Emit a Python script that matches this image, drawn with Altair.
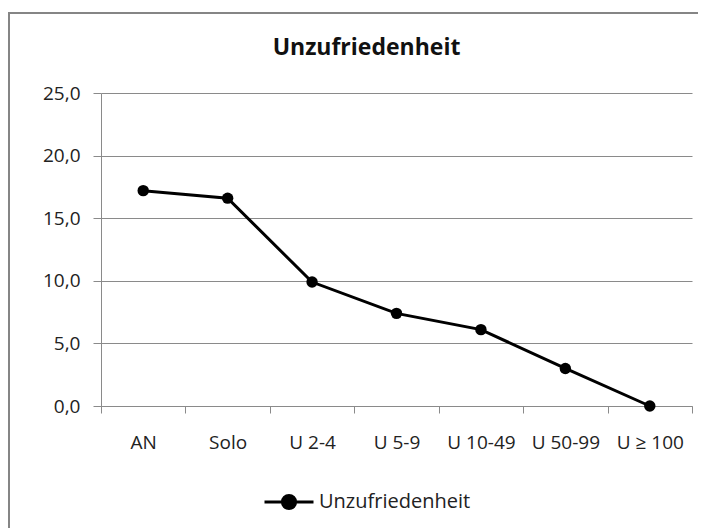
import altair as alt
import pandas as pd

categories = ["AN", "Solo", "U 2-4", "U 5-9", "U 10-49", "U 50-99", "U \u2265 100"]
values = [17.2, 16.6, 9.9, 7.4, 6.1, 3.0, 0.0]
series_name = "Unzufriedenheit"
y_ticks = [0, 5, 10, 15, 20, 25]

df = pd.DataFrame({"cat": categories, "val": values, "series": [series_name] * len(categories)})

FONT = "Open Sans"
GRID = "#8a8a8a"

x_enc = alt.X(
    "cat:N",
    sort=categories,
    bandPosition=0.5,
    scale=alt.Scale(type="band", paddingInner=0, paddingOuter=0),
    axis=alt.Axis(
        title=None, labelAngle=0, tickBand="extent", tickSize=7, labelPadding=20,
        domainColor=GRID, tickColor=GRID, labelFontSize=19, labelColor="#222222",
        labelFont=FONT, grid=False,
    ),
)
y_enc = alt.Y(
    "val:Q",
    scale=alt.Scale(domain=[0, 25], nice=False),
    axis=alt.Axis(
        title=None, values=y_ticks, format=".1f", labelExpr="replace(datum.label, '.', ',')",
        tickSize=8, labelPadding=13, domainColor=GRID, tickColor=GRID, gridColor=GRID,
        labelFontSize=19, labelColor="#222222", labelFont=FONT, grid=True,
    ),
)

legend_path = "M-1,0H1M-0.27,0A0.27,0.27 0 1,0 0.27,0A0.27,0.27 0 1,0 -0.27,0Z"

line = alt.Chart(df).mark_line(strokeWidth=3, point=alt.OverlayMarkDef(filled=True, size=130, color="black")).encode(
    x=x_enc,
    y=y_enc,
    color=alt.Color(
        "series:N",
        scale=alt.Scale(range=["black"]),
        legend=alt.Legend(
            title=None, orient="none", legendX=162, legendY=383,
            symbolType=legend_path, symbolSize=2401, symbolStrokeWidth=3,
            symbolFillColor="black", symbolStrokeColor="black",
            labelFontSize=20, labelFont=FONT, labelColor="#222222", labelOffset=4,
        ),
    ),
)

frame = alt.Chart(df).mark_rect(fill=None, stroke="#858585", strokeWidth=2, clip=False).encode(
    x=alt.value(-92), x2=alt.value(700), y=alt.value(-80), y2=alt.value(460)
).transform_filter("datum.cat == 'AN'")

chart = alt.layer(frame, line).properties(
    width=591,
    height=313,
    autosize=alt.AutoSizeParams(type="none"),
    padding={"left": 93, "top": 85, "right": 6, "bottom": 122},
    title=alt.Title(
        "Unzufriedenheit", anchor="middle", dx=-30, offset=-48,
        fontSize=23, font=FONT, fontWeight="bold", color="#111111",
    ),
).configure_view(stroke=None)

chart.save("out.html", embed_options={"renderer": "svg", "actions": False})
